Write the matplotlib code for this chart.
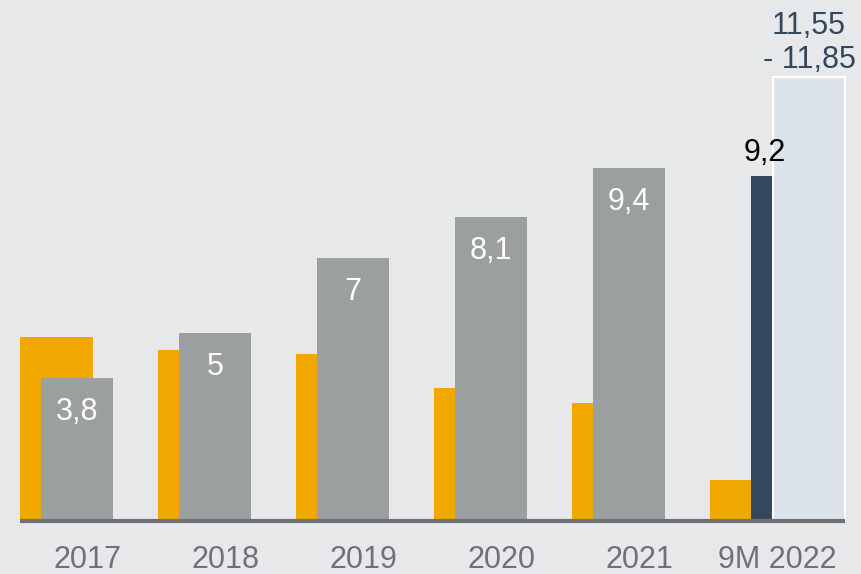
import numpy as np
import matplotlib.pyplot as plt

plt.rcParams['font.family'] = ['Liberation Sans', 'DejaVu Sans']

# data
years = ['2017', '2018', '2019', '2020', '2021', '9M 2022']
orange_vals = [4.9, 4.55, 4.45, 3.55, 3.15, 1.1]
gray_vals = [3.8, 5.0, 7.0, 8.1, 9.4]
gray_labels = ['3,8', '5', '7', '8,1', '9,4']
dark_val = 9.2
dark_label = '9,2'
target_val = 11.85
target_label = '11,55\n- 11,85'

ORANGE = '#f0a800'
GRAY = '#9c9fa0'
DARK = '#33485d'
LIGHT = '#dde3ea'
AXIS = '#6f7275'

fig = plt.figure(figsize=(8.61, 5.74), dpi=100)
fig.patch.set_facecolor('#e7e8ea')
ax = fig.add_axes([0, 0, 1, 1])
ax.set_facecolor('#e7e8ea')

x = np.arange(len(years))
n = len(gray_vals)

# orange bars sit behind
ax.bar(x - 0.072, orange_vals, width=0.529, color=ORANGE, zorder=2)
# gray bars with white labels
ax.bar(x[:n] + 0.076, gray_vals, width=0.522, color=GRAY, zorder=3)
for xi, v, lab in zip(x[:n], gray_vals, gray_labels):
    ax.text(xi + 0.076, v - 0.9, lab, ha='center', va='center',
            color='white', fontsize=22, zorder=5)

# last group: actual 9M and the target range
ax.bar(x[-1] + 0.036, dark_val, width=0.152, color=DARK, zorder=3)
ax.text(x[-1] + 0.06, dark_val + 0.2, dark_label, ha='center', va='bottom',
        color='black', fontsize=22, zorder=5)
ax.bar(x[-1] + 0.38, target_val, width=0.522, color=LIGHT,
       edgecolor='white', linewidth=1.5, zorder=3)
ax.text(x[-1] + 0.38, target_val + 0.05, target_label, ha='center', va='bottom',
        color=DARK, fontsize=22, linespacing=1.15, zorder=5)

# baseline
ax.plot([x[0] - 0.337, x[-1] + 0.64], [0, 0], color=AXIS, lw=3,
        solid_capstyle='butt', zorder=4)

# category labels
for xi, lab in zip(x, years):
    ax.text(xi + 0.15, -1.05, lab, ha='center', va='center',
            color=AXIS, fontsize=22)

ax.set_xlim(-0.482, 5.757)
ax.set_ylim(-1.413, 13.89)
ax.axis('off')

plt.savefig('out.png', dpi=100, facecolor=fig.get_facecolor())
